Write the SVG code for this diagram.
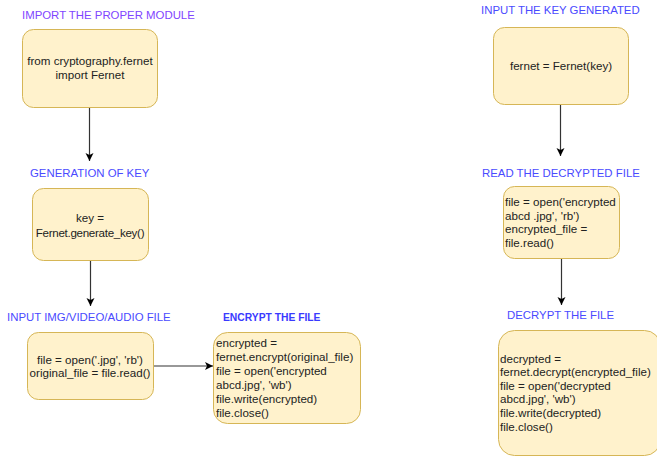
<svg xmlns="http://www.w3.org/2000/svg" width="657" height="456" viewBox="0 0 657 456">
<defs>
<marker id="arr" markerWidth="10" markerHeight="10" refX="8" refY="4" orient="auto" markerUnits="userSpaceOnUse">
<path d="M0,0 L8,4 L0,8 L2,4 Z" fill="#000"/>
</marker>
<style>
.box{fill:#fff2cc;stroke:#d6b656;stroke-width:1}
.t{font-family:"Liberation Sans",Arial,sans-serif;font-size:11.6px;fill:#222}
.c{text-anchor:middle}
.h{font-family:"Liberation Sans",Arial,sans-serif;font-size:11.4px;fill:#4a4aff}
.edge{stroke:#333;stroke-width:1.2;fill:none;marker-end:url(#arr)}
</style>
</defs>
<rect width="657" height="456" fill="#fff"/>
<g id="labels">
<text class="h" x="22" y="19" style="fill:#7f45ff">IMPORT THE PROPER MODULE</text>
<text class="h" x="30" y="177">GENERATION OF KEY</text>
<text class="h" x="7" y="321">INPUT IMG/VIDEO/AUDIO FILE</text>
<text class="h" x="223" y="321" style="font-weight:bold;font-size:10.3px;fill:#3a3aff">ENCRYPT THE FILE</text>
<text class="h" x="481" y="14">INPUT THE KEY GENERATED</text>
<text class="h" x="482" y="177">READ THE DECRYPTED FILE</text>
<text class="h" x="507" y="319">DECRYPT THE FILE</text>
</g>
<g id="connectors">
<line class="edge" x1="89.5" y1="107" x2="89.5" y2="161"/>
<line class="edge" x1="90.5" y1="260" x2="90.5" y2="306"/>
<line class="edge" x1="153" y1="366" x2="213" y2="366"/>
<line class="edge" x1="560.5" y1="104" x2="560.5" y2="156"/>
<line class="edge" x1="561.5" y1="258" x2="561.5" y2="305"/>
</g>
<g id="n1">
<rect class="box" x="22.5" y="29.5" width="135" height="78" rx="11"/>
<text class="t c" x="90" y="65">from cryptography.fernet</text>
<text class="t c" x="90" y="79">import Fernet</text>
</g>
<g id="n2">
<rect class="box" x="32.5" y="188.5" width="116" height="72" rx="11"/>
<text class="t c" x="90" y="222">key =</text>
<text class="t c" x="90" y="237" style="letter-spacing:-0.3px">Fernet.generate_key()</text>
</g>
<g id="n3">
<rect class="box" x="27.5" y="332.5" width="126" height="67" rx="11"/>
<text class="t c" x="90" y="364">file = open('.jpg', 'rb')</text>
<text class="t c" x="90" y="377">original_file = file.read()</text>
</g>
<g id="n4">
<rect class="box" x="213.5" y="332.5" width="147" height="91" rx="14"/>
<text class="t" x="216" y="347">encrypted =</text>
<text class="t" x="216" y="361">fernet.encrypt(original_file)</text>
<text class="t" x="216" y="375">file = open('encrypted</text>
<text class="t" x="216" y="389">abcd.jpg', 'wb')</text>
<text class="t" x="216" y="403">file.write(encrypted)</text>
<text class="t" x="216" y="417">file.close()</text>
</g>
<g id="n5">
<rect class="box" x="493.5" y="27.5" width="135" height="77" rx="11"/>
<text class="t c" x="561" y="70">fernet = Fernet(key)</text>
</g>
<g id="n6">
<rect class="box" x="503.5" y="186.5" width="116" height="72" rx="11"/>
<text class="t" x="505" y="206">file = open('encrypted</text>
<text class="t" x="505" y="220">abcd .jpg', 'rb')</text>
<text class="t" x="505" y="233">encrypted_file =</text>
<text class="t" x="505" y="247">file.read()</text>
</g>
<g id="n7">
<rect class="box" x="498.5" y="330.5" width="162" height="125" rx="16"/>
<text class="t" x="500" y="363">decrypted =</text>
<text class="t" x="500" y="376">fernet.decrypt(encrypted_file)</text>
<text class="t" x="500" y="390">file = open('decrypted</text>
<text class="t" x="500" y="403">abcd.jpg', 'wb')</text>
<text class="t" x="500" y="417">file.write(decrypted)</text>
<text class="t" x="500" y="431">file.close()</text>
</g>
</svg>
